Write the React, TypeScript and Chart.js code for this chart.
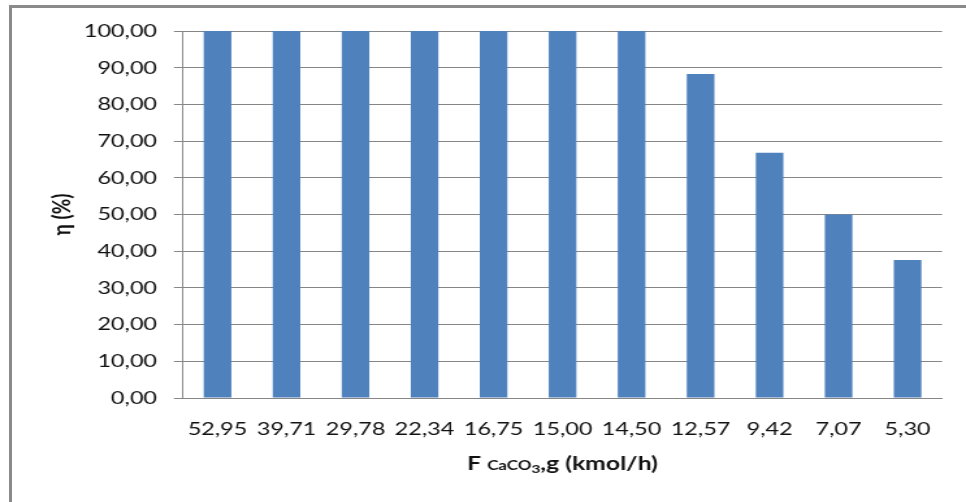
import { useEffect, useRef } from 'react';
import { Chart, registerables } from 'chart.js';

Chart.register(...registerables);

// Feed rate of CaCO3 (kmol/h) for each run, as printed on the category axis
const categories = ['52,95', '39,71', '29,78', '22,34', '16,75', '15,00', '14,50', '12,57', '9,42', '7,07', '5,30'];
// Removal efficiency η (%) for each feed rate
const efficiency = [100, 100, 100, 100, 100, 100, 100, 88.3, 66.8, 50.0, 37.6];
// Value axis range
const yMin = 0;
const yMax = 100;
const yStep = 10;

const WIDTH = 966;
const HEIGHT = 502;
// The chart is drawn on a narrower bitmap and widened horizontally, giving the broad glyphs
const STRETCH = 1.3;
const CW = Math.round(WIDTH / STRETCH);

const PLOT_LEFT = 183 / STRETCH;
const PLOT_RIGHT = 942 / STRETCH;
const PLOT_TOP = 31;
const PLOT_BOTTOM = 398;

const GRID = '#868686';
const BAR = '#4F81BD';
const TEXT = '#111';
const FONT = "Lato, 'Noto Sans', 'DejaVu Sans', sans-serif";

const fmt = (v: number) => v.toFixed(2).replace('.', ',');

// Axis title with a chemical formula: "F CaCO₃,g (kmol/h)"
const xTitlePlugin = {
  id: 'xTitle',
  afterDraw(chart: Chart) {
    const { ctx, chartArea } = chart;
    const runs = [
      { t: 'F ', size: 19, dy: 0 },
      { t: 'CaCO', size: 13, dy: 0 },
      { t: '3', size: 12, dy: 3 },
      { t: ',g (kmol/h)', size: 19, dy: 0 },
    ];
    ctx.save();
    ctx.fillStyle = TEXT;
    ctx.textBaseline = 'alphabetic';
    ctx.textAlign = 'left';
    let total = 0;
    const widths = runs.map((r) => {
      ctx.font = `bold ${r.size}px ${FONT}`;
      const w = ctx.measureText(r.t).width;
      total += w;
      return w;
    });
    let x = (chartArea.left + chartArea.right) / 2 - total / 2;
    const baseline = 470;
    runs.forEach((r, i) => {
      ctx.font = `bold ${r.size}px ${FONT}`;
      ctx.fillText(r.t, x, baseline + r.dy);
      x += widths[i];
    });
    ctx.restore();
  },
};

export default function App() {
  const canvasRef = useRef<HTMLCanvasElement | null>(null);

  useEffect(() => {
    const canvas = canvasRef.current;
    if (!canvas) return;
    const chart = new Chart(canvas, {
      type: 'bar',
      data: {
        labels: categories,
        datasets: [
          {
            data: efficiency,
            backgroundColor: BAR,
            borderWidth: 0,
            barPercentage: 0.4,
            categoryPercentage: 1.0,
          },
        ],
      },
      options: {
        responsive: false,
        animation: false,
        devicePixelRatio: 1,
        layout: {
          padding: { left: 0, right: CW - PLOT_RIGHT, top: PLOT_TOP, bottom: 0 },
        },
        plugins: {
          legend: { display: false },
          tooltip: { enabled: false },
        },
        scales: {
          x: {
            afterFit: (scale: any) => {
              scale.height = HEIGHT - PLOT_BOTTOM;
            },
            grid: { display: false, drawTicks: false },
            border: { display: true, color: GRID, width: 1 },
            ticks: {
              color: TEXT,
              font: { family: FONT, size: 18 },
              padding: 20,
              maxRotation: 0,
              autoSkip: false,
            },
          },
          y: {
            min: yMin,
            max: yMax,
            afterFit: (scale: any) => {
              scale.width = PLOT_LEFT;
            },
            grid: { color: GRID, lineWidth: 1, drawTicks: true, tickLength: 7 },
            border: { display: true, color: GRID, width: 1 },
            ticks: {
              stepSize: yStep,
              color: TEXT,
              font: { family: FONT, size: 18 },
              padding: 13,
              callback: (v: any) => fmt(Number(v)),
            },
            title: {
              display: true,
              text: 'η (%)',
              color: TEXT,
              font: { family: FONT, size: 19, weight: 'bold' },
              padding: { top: 36, bottom: 0 },
            },
          },
        },
      },
      plugins: [xTitlePlugin],
    });
    return () => chart.destroy();
  }, []);

  return (
    <div
      style={{
        position: 'absolute',
        left: 0,
        top: 0,
        width: WIDTH,
        height: HEIGHT,
        overflow: 'hidden',
        background: '#fff',
      }}
    >
      <canvas
        ref={canvasRef}
        width={CW}
        height={HEIGHT}
        style={{ width: `${WIDTH}px`, height: `${HEIGHT}px`, display: 'block' }}
      />
      <div
        style={{
          position: 'absolute',
          left: 9,
          top: 5,
          width: 2000,
          height: 2000,
          borderLeft: '3px solid #8a8a8a',
          borderTop: '3px solid #8a8a8a',
          pointerEvents: 'none',
        }}
      />
    </div>
  );
}
